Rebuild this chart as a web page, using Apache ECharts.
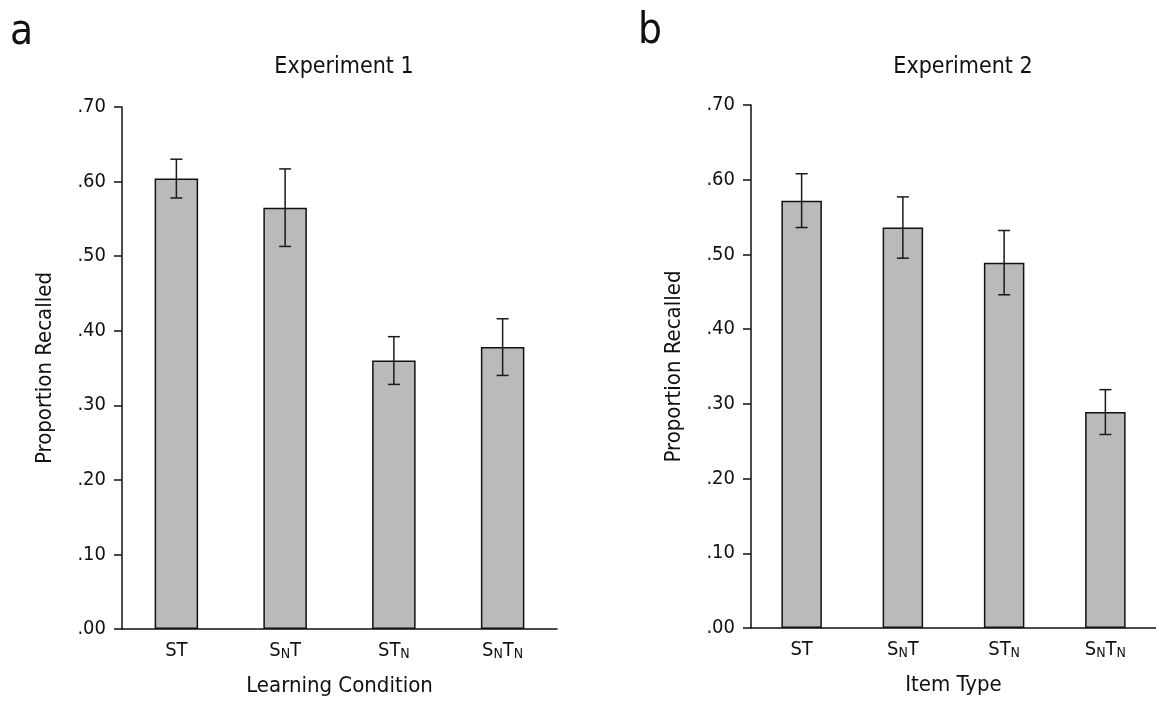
<!DOCTYPE html>
<html>
<head>
<meta charset="utf-8">
<script src="https://cdn.jsdelivr.net/npm/echarts@6/dist/echarts.min.js"></script>
<style>
  html, body { margin: 0; padding: 0; background: #fff; }
  #chart { width: 1156px; height: 705px; }
</style>
</head>
<body>
<div id="chart"></div>
<script>
// categories, "_N" marks a subscript N
const categories = ['ST', 'S_NT', 'ST_N', 'S_NT_N']

// Experiment 1 (Learning Condition)
const exp1Means = [0.604, 0.565, 0.360, 0.378]
const exp1Errors = [0.026, 0.052, 0.032, 0.038]

// Experiment 2 (Item Type)
const exp2Means = [0.572, 0.536, 0.489, 0.289]
const exp2Errors = [0.036, 0.041, 0.043, 0.030]

const yTicks = { min: 0, max: 0.7, interval: 0.1 }

const FONT = '"Liberation Sans Narrow", "DejaVu Sans Condensed", Roboto, sans-serif'
const INK = '#111'

const chart = echarts.init(document.getElementById('chart'))

const catFormatter = v => v.split(/(_N)/).filter(Boolean)
  .map(p => p === '_N' ? '{s|N}' : '{m|' + p + '}').join('')

const makeXAxis = (gridIndex, name) => ({
  type: 'category',
  gridIndex,
  data: categories,
  name,
  nameLocation: 'middle',
  nameGap: 46,
  nameTextStyle: { fontFamily: FONT, fontSize: 22, color: INK },
  axisLine: { lineStyle: { color: INK, width: 1.5 } },
  axisTick: { show: false },
  axisLabel: {
    interval: 0,
    margin: 12,
    formatter: catFormatter,
    rich: {
      m: { fontFamily: FONT, fontSize: 20, color: INK, lineHeight: 20, verticalAlign: 'top' },
      s: { fontFamily: FONT, fontSize: 14, color: INK, lineHeight: 14, padding: [9, 0, 0, 0], verticalAlign: 'bottom' },
    },
  },
})

const makeYAxis = gridIndex => ({
  type: 'value',
  gridIndex,
  min: yTicks.min,
  max: yTicks.max,
  interval: yTicks.interval,
  name: 'Proportion Recalled',
  nameLocation: 'middle',
  nameGap: 66,
  nameTextStyle: { fontFamily: FONT, fontSize: 22, color: INK },
  axisLine: { show: true, lineStyle: { color: INK, width: 1.5 } },
  axisTick: { show: true, length: 8, lineStyle: { color: INK, width: 1.5 } },
  splitLine: { show: false },
  axisLabel: {
    margin: 16,
    fontFamily: FONT,
    fontSize: 20,
    color: INK,
    formatter: v => v.toFixed(2).replace(/^0/, ''),
  },
})

const makeBars = (idx, means) => ({
  type: 'bar',
  xAxisIndex: idx,
  yAxisIndex: idx,
  data: means,
  barWidth: '40%',
  itemStyle: { color: '#b9babc', borderColor: INK, borderWidth: 1.5 },
  silent: true,
})

const makeErrors = (idx, means, errs) => ({
  type: 'custom',
  xAxisIndex: idx,
  yAxisIndex: idx,
  data: means.map((m, i) => [i, m, errs[i]]),
  encode: { x: 0, y: 1 },
  z: 10,
  silent: true,
  renderItem: (params, api) => {
    const x = api.value(0)
    const m = api.value(1)
    const e = api.value(2)
    const top = api.coord([x, m + e])
    const bot = api.coord([x, m - e])
    const w = 6
    const style = { stroke: '#1a1a1a', lineWidth: 1.5 }
    return {
      type: 'group',
      children: [
        { type: 'line', shape: { x1: top[0], y1: top[1], x2: bot[0], y2: bot[1] }, style },
        { type: 'line', shape: { x1: top[0] - w, y1: top[1], x2: top[0] + w, y2: top[1] }, style },
        { type: 'line', shape: { x1: bot[0] - w, y1: bot[1], x2: bot[0] + w, y2: bot[1] }, style },
      ],
    }
  },
})

const options = {
  animation: false,
  backgroundColor: '#fff',
  title: [
    { text: 'a', left: 5, top: 7, textStyle: { fontFamily: FONT, fontSize: 42, fontWeight: 'normal', color: INK } },
    { text: 'b', left: 633, top: 6, textStyle: { fontFamily: FONT, fontSize: 42, fontWeight: 'normal', color: INK } },
    { text: 'Experiment 1', left: 339, top: 51, textAlign: 'center', textStyle: { fontFamily: FONT, fontSize: 23, fontWeight: 'normal', color: INK } },
    { text: 'Experiment 2', left: 958, top: 51, textAlign: 'center', textStyle: { fontFamily: FONT, fontSize: 23, fontWeight: 'normal', color: INK } },
  ],
  grid: [
    { left: 122, top: 107, width: 435, height: 522 },
    { left: 751, top: 105, width: 416, height: 523 },
  ],
  xAxis: [makeXAxis(0, 'Learning Condition'), makeXAxis(1, 'Item Type')],
  yAxis: [makeYAxis(0), makeYAxis(1)],
  series: [
    makeBars(0, exp1Means),
    makeErrors(0, exp1Means, exp1Errors),
    makeBars(1, exp2Means),
    makeErrors(1, exp2Means, exp2Errors),
  ],
}

chart.setOption(options)
</script>
</body>
</html>
